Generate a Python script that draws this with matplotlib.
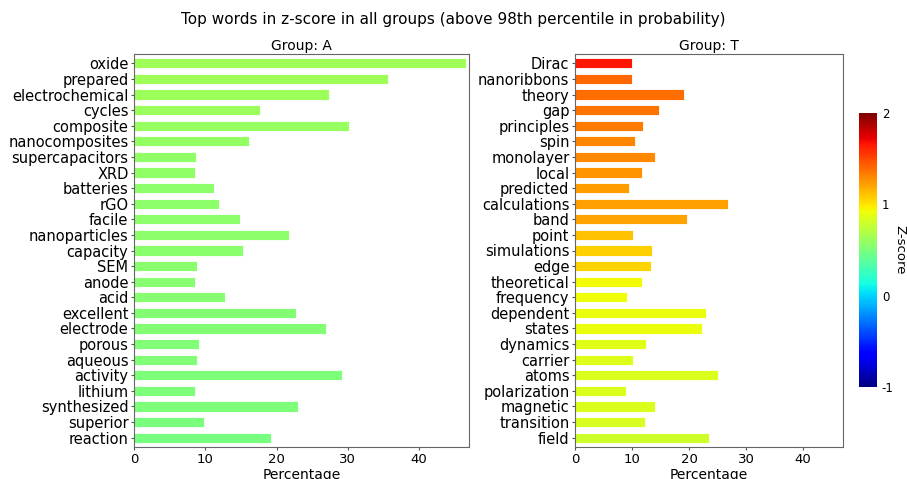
import matplotlib
matplotlib.use("Agg")
import matplotlib.pyplot as plt
import numpy as np
from matplotlib import cm, colors

plt.rcParams["axes.unicode_minus"] = False

words_a = ["oxide", "prepared", "electrochemical", "cycles", "composite", "nanocomposites",
           "supercapacitors", "XRD", "batteries", "rGO", "facile", "nanoparticles", "capacity",
           "SEM", "anode", "acid", "excellent", "electrode", "porous", "aqueous", "activity",
           "lithium", "synthesized", "superior", "reaction"]
pct_a = [46.6, 35.7, 27.4, 17.7, 30.2, 16.2, 8.7, 8.6, 11.2, 11.9, 14.9, 21.7, 15.3,
         8.8, 8.6, 12.8, 22.7, 26.9, 9.1, 8.8, 29.2, 8.6, 23.0, 9.8, 19.2]
z_a = [0.64, 0.63, 0.62, 0.61, 0.60, 0.59, 0.58, 0.58, 0.57, 0.57, 0.56, 0.56, 0.55,
       0.55, 0.54, 0.54, 0.53, 0.53, 0.52, 0.52, 0.51, 0.51, 0.50, 0.49, 0.48]

words_t = ["Dirac", "nanoribbons", "theory", "gap", "principles", "spin", "monolayer", "local",
           "predicted", "calculations", "band", "point", "simulations", "edge", "theoretical",
           "frequency", "dependent", "states", "dynamics", "carrier", "atoms", "polarization",
           "magnetic", "transition", "field"]
pct_t = [9.95, 9.95, 19.1, 14.8, 12.0, 10.5, 14.0, 11.8, 9.5, 26.9, 19.6, 10.1, 13.5,
         13.4, 11.8, 9.2, 23.0, 22.2, 12.4, 10.2, 25.0, 8.9, 14.1, 12.2, 23.5]
z_t = [1.65, 1.40, 1.39, 1.36, 1.34, 1.30, 1.29, 1.25, 1.23, 1.22, 1.21, 1.12, 1.07,
       1.06, 0.93, 0.92, 0.91, 0.91, 0.87, 0.86, 0.85, 0.85, 0.84, 0.83, 0.80]

zmin, zmax = -1, 2
x_ticks = [0, 10, 20, 30, 40]

fig = plt.figure(figsize=(9.07, 4.79), dpi=100)
W, H = 907, 479
def rect(x0, y0, x1, y1):
    return [x0 / W, 1 - y1 / H, (x1 - x0) / W, (y1 - y0) / H]

cmap = plt.get_cmap("jet")
norm = colors.Normalize(vmin=zmin, vmax=zmax)

ax1 = fig.add_axes(rect(134, 54, 469, 447))
ax2 = fig.add_axes(rect(575, 54, 843, 447))
cax = fig.add_axes(rect(859, 113, 877, 387))

xmax = 47.0
for ax, words, pct, z, title in [(ax1, words_a, pct_a, z_a, "Group: A"),
                                   (ax2, words_t, pct_t, z_t, "Group: T")]:
    y = np.arange(len(words))
    ax.barh(y, pct, height=0.65, color=cmap(norm(np.array(z))),
            edgecolor="white", linewidth=0.6)
    ax.set_yticks(y)
    ax.set_yticklabels(words, fontsize=10.5)
    ax.set_ylim(len(words) - 0.4, -0.6)
    ax.set_xlim(0, xmax)
    ax.set_xticks(x_ticks)
    ax.tick_params(axis="x", labelsize=9.5, length=2.5, pad=2, color="#555555")
    ax.tick_params(axis="y", length=2, color="#555555", pad=2)
    ax.set_xlabel("Percentage", fontsize=10, labelpad=1)
    ax.set_title(title, fontsize=10, pad=3)
    for s in ax.spines.values():
        s.set_color("#666666")

sm = cm.ScalarMappable(norm=norm, cmap=cmap)
cb = fig.colorbar(sm, cax=cax, ticks=[-1, 0, 1, 2])
cb.outline.set_visible(False)
cb.ax.tick_params(length=0, labelsize=8.5)
cb.set_label("Z-score", rotation=270, fontsize=9.5, labelpad=9)

fig.suptitle("Top words in z-score in all groups (above 98th percentile in probability)",
             fontsize=11, y=0.975)

fig.savefig("out.png", dpi=100)
